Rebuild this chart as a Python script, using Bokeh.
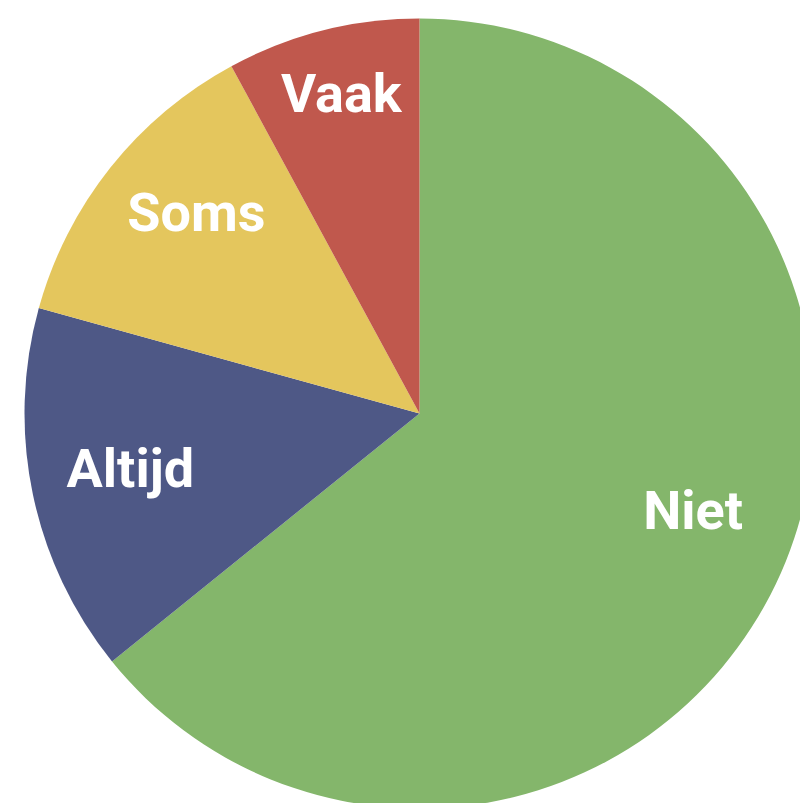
import math
from bokeh.plotting import figure
from bokeh.models import ColumnDataSource, Range1d
from bokeh.core.properties import value
from bokeh.embed import file_html
from bokeh.resources import INLINE

categories = ["Niet", "Altijd", "Soms", "Vaak"]
values = [64.2, 15.1, 12.8, 7.9]
colors = ["#84B66B", "#4E5886", "#E4C65D", "#C0584D"]

W, H = 800, 803
cx, cy, R = 419, 390, 395

# layout tweaks for label placement (radius fraction, angle shift in degrees)
label_rf = [0.735, 0.745, 0.76, 0.835]
label_shift = [-6.0, 1.0, 3.5, 0.5]

total = sum(values)
starts, ends, lx, ly = [], [], [], []
acc = 0.0
for i, v in enumerate(values):
    a0 = acc / total * 360.0
    acc += v
    a1 = acc / total * 360.0
    starts.append(math.radians(90 - a0))
    ends.append(math.radians(90 - a1))
    mid = (a0 + a1) / 2 + label_shift[i]
    r = R * label_rf[i]
    lx.append(cx + r * math.sin(math.radians(mid)))
    ly.append(cy + r * math.cos(math.radians(mid)))

src = ColumnDataSource(dict(cat=categories, start=starts, end=ends, color=colors, lx=lx, ly=ly))

p = figure(width=W, height=H, output_backend="svg", toolbar_location=None,
           x_range=Range1d(0, W), y_range=Range1d(0, H), min_border=0)
p.axis.visible = False
p.grid.visible = False
p.outline_line_color = None
p.background_fill_color = "white"
p.border_fill_color = "white"

p.wedge(x=cx, y=cy, radius=R, start_angle="start", end_angle="end", direction="clock",
        fill_color="color", line_color=None, source=src)
p.text(x="lx", y="ly", text="cat", source=src, text_color="white",
       text_font=value("Roboto"), text_font_style="bold", text_font_size="54px",
       text_align="center", text_baseline="middle")

open("out.html", "w").write(file_html(p, INLINE))
